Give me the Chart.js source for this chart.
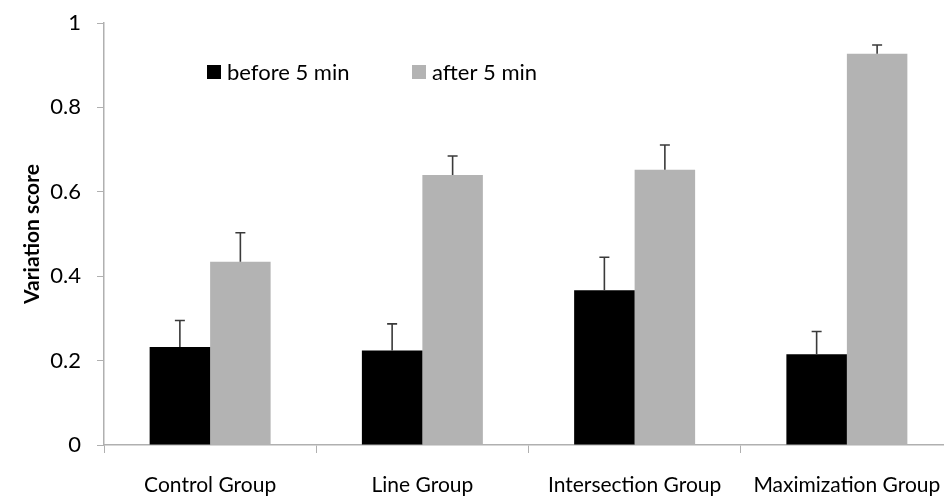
<!DOCTYPE html>
<html>
<head>
<meta charset="utf-8">
<script src="https://cdn.jsdelivr.net/npm/chart.js@4"></script>
<style>
  html, body { margin: 0; padding: 0; background: #fff; overflow: hidden; }
  #wrap { position: relative; width: 953px; height: 496px; }
</style>
</head>
<body>
<div id="wrap"><canvas id="myChart"></canvas></div>
<script>
const black = "#000000";
const grey = "#b3b3b3";
const axisGrey = "#b0b0b0";

const groups = ["Control Group", "Line Group", "Intersection Group", "Maximization Group"];
const seriesNames = ["before 5 min", "after 5 min"];
const beforeValues = [0.232, 0.224, 0.367, 0.215];
const afterValues = [0.434, 0.640, 0.652, 0.927];
// upper error amounts (only the top whisker is drawn)
const beforeErr = [0.063, 0.063, 0.078, 0.054];
const afterErr = [0.069, 0.045, 0.059, 0.021];
const yTicks = [0, 0.2, 0.4, 0.6, 0.8, 1];

const fontFamily = "Lato, 'Open Sans', sans-serif";

const errorBars = {
  id: "errorBars",
  afterDatasetsDraw(chart) {
    const ctx = chart.ctx;
    const yScale = chart.scales.y;
    chart.data.datasets.forEach((ds, i) => {
      const meta = chart.getDatasetMeta(i);
      meta.data.forEach((bar, j) => {
        const top = yScale.getPixelForValue(ds.data[j] + ds.errors[j]);
        ctx.save();
        ctx.strokeStyle = "#3a3a3a";
        ctx.lineWidth = 1.6;
        ctx.beginPath();
        ctx.moveTo(bar.x, bar.y);
        ctx.lineTo(bar.x, top);
        ctx.moveTo(bar.x - 5, top);
        ctx.lineTo(bar.x + 5, top);
        ctx.stroke();
        ctx.restore();
      });
    });
  },
};

// legend drawn inside the plot area, like the original
const innerLegend = {
  id: "innerLegend",
  afterDraw(chart) {
    const ctx = chart.ctx;
    const spots = [207, 412];
    const y = 72;
    ctx.save();
    ctx.font = "22px " + fontFamily;
    ctx.textBaseline = "middle";
    chart.data.datasets.forEach((ds, i) => {
      ctx.fillStyle = ds.backgroundColor;
      ctx.fillRect(spots[i], y - 7, 14, 14);
      ctx.fillStyle = "#000";
      ctx.fillText(ds.label, spots[i] + 20, y + 1);
    });
    ctx.restore();
  },
};

new Chart(document.getElementById("myChart"), {
  type: "bar",
  data: {
    labels: groups,
    datasets: [
      {
        label: seriesNames[0],
        data: beforeValues,
        errors: beforeErr,
        backgroundColor: black,
      },
      {
        label: seriesNames[1],
        data: afterValues,
        errors: afterErr,
        backgroundColor: grey,
      },
    ],
  },
  options: {
    responsive: true,
    maintainAspectRatio: false,
    animation: false,
    categoryPercentage: 0.57,
    barPercentage: 1,
    layout: {
      padding: { top: 23, right: 0, left: 0, bottom: 0 },
    },
    plugins: {
      legend: { display: false },
      title: { display: false },
      tooltip: { enabled: false },
    },
    scales: {
      x: {
        afterFit: (scale) => {
          scale.height = 51;
          scale.paddingLeft = 0;
          scale.paddingRight = 0;
        },
        grid: {
          display: true,
          drawOnChartArea: false,
          drawTicks: true,
          tickLength: 8,
          color: axisGrey,
          offset: true,
        },
        border: { display: true, color: axisGrey, width: 1.5 },
        ticks: {
          color: "#000",
          padding: 20,
          font: { family: fontFamily, size: 21 },
          maxRotation: 0,
          autoSkip: false,
        },
      },
      y: {
        min: 0,
        max: 1,
        afterBuildTicks: (scale) => {
          scale.ticks = yTicks.map((v) => ({ value: v }));
        },
        afterFit: (scale) => {
          scale.width = 104;
          scale.paddingTop = 0;
          scale.paddingBottom = 0;
        },
        grid: {
          drawOnChartArea: false,
          tickLength: 7,
          color: axisGrey,
        },
        border: { display: true, color: axisGrey, width: 1.5 },
        ticks: {
          color: "#000",
          padding: 16,
          font: { family: fontFamily, size: 22 },
          callback: (v) => String(v),
        },
        title: {
          display: true,
          text: "Variation score",
          color: "#000",
          font: { family: fontFamily, size: 21, weight: "bold" },
          padding: { top: 20, bottom: 0 },
        },
      },
    },
  },
  plugins: [errorBars, innerLegend],
});
</script>
</body>
</html>
